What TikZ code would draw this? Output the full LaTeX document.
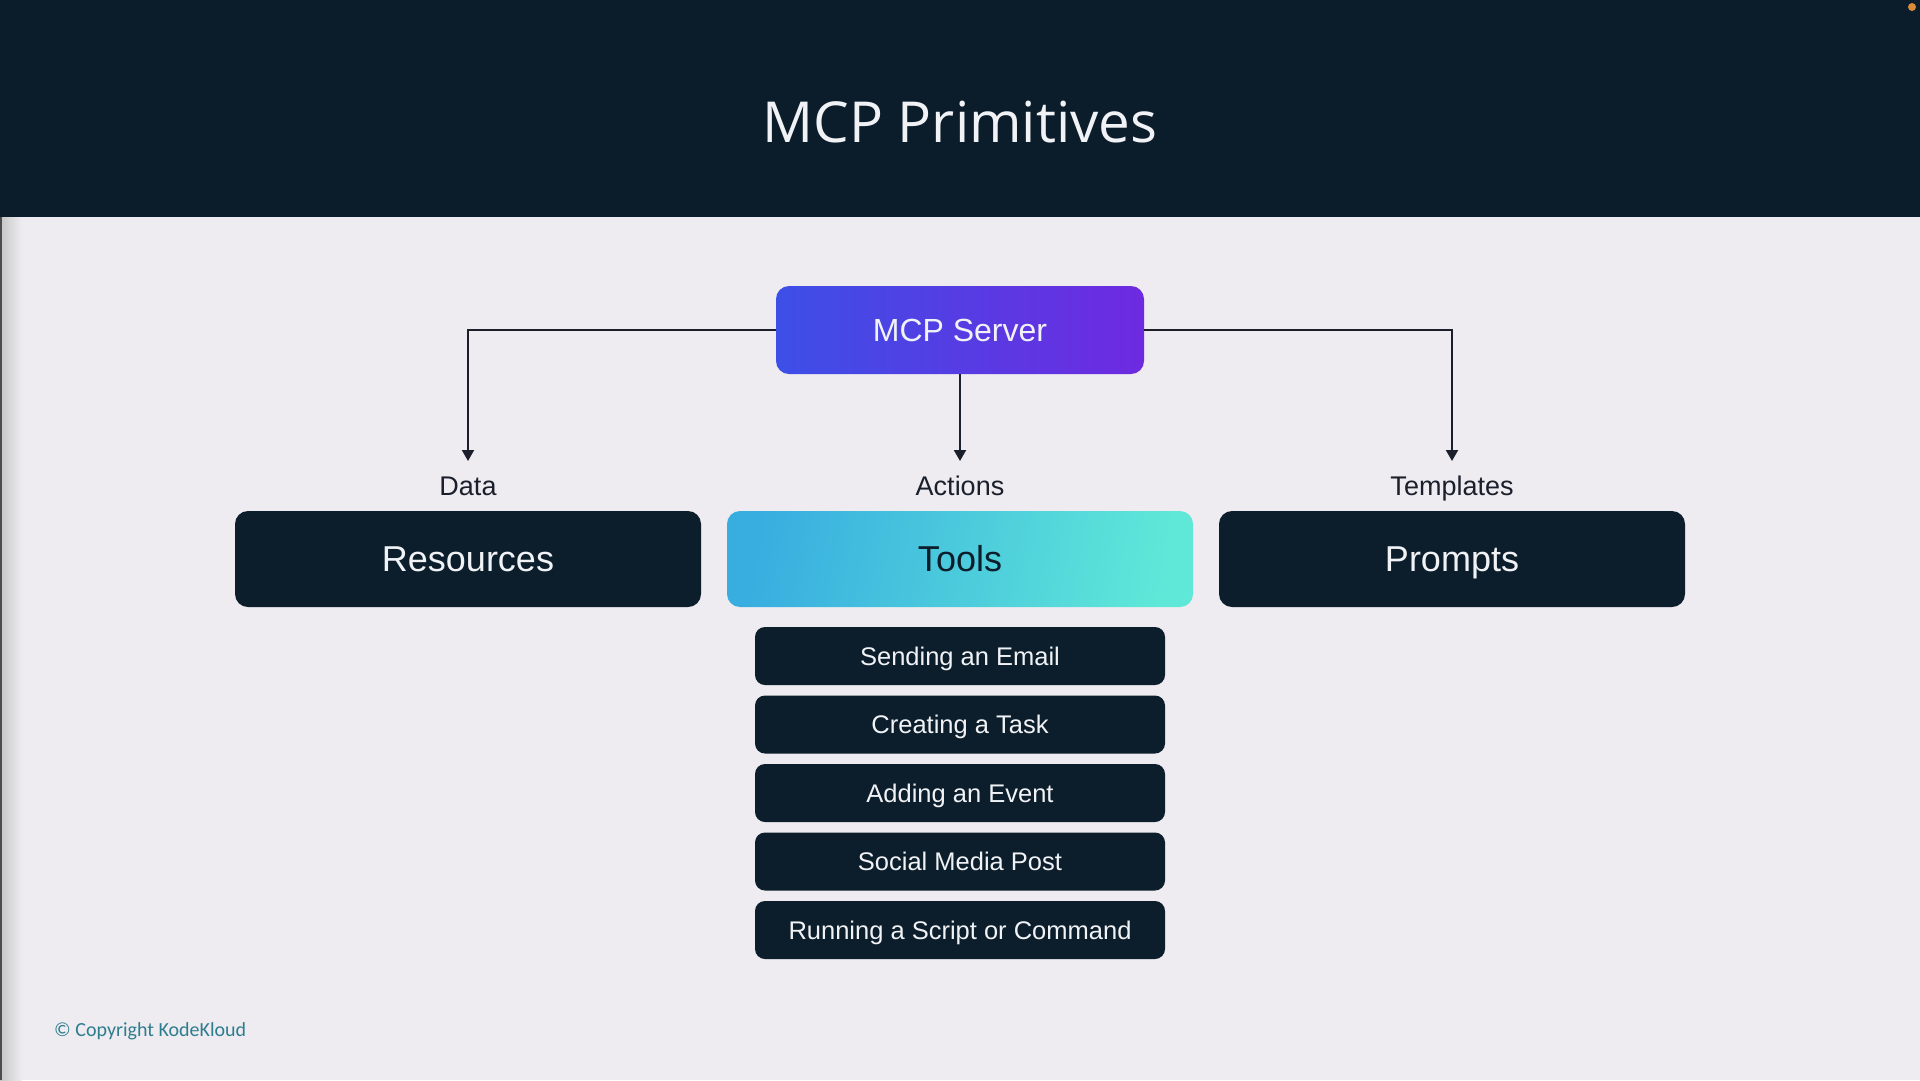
\documentclass[tikz,border=0pt]{standalone}
\usepackage{fontspec}
\setmainfont{Liberation Sans}
\newfontfamily\titlefont{Open Sans}
\newfontfamily\copyfont{Carlito}
\usetikzlibrary{arrows.meta}
\definecolor{headbg}{HTML}{0B1D2A}
\definecolor{bodybg}{HTML}{EEECF0}
\definecolor{darkbox}{HTML}{0C1E2B}
\definecolor{boxtext}{HTML}{F0F2F5}
\definecolor{mcpA}{HTML}{3D4FE6}
\definecolor{mcpB}{HTML}{6E2AE0}
\definecolor{toolA}{HTML}{38ADE0}
\definecolor{toolM}{HTML}{40C0E0}
\definecolor{toolB}{HTML}{5FE8D8}
\definecolor{linecol}{HTML}{1A1F2B}
\definecolor{copycol}{HTML}{2E7D8F}
\definecolor{dotcol}{HTML}{D98A3A}
\tikzset{
  primbox/.style={rounded corners=13pt, minimum width=466pt, minimum height=96pt, inner sep=0pt,
    font=\fontsize{36}{40}\selectfont, text height=25.8pt, text depth=0pt},
  darkprim/.style={primbox, fill=darkbox, text=boxtext},
  toolitem/.style={rounded corners=10pt, fill=darkbox, text=boxtext, minimum width=410pt,
    minimum height=58pt, inner sep=0pt, font=\fontsize{25.5}{30}\selectfont, text height=18.3pt, text depth=0pt},
  catlabel/.style={text=linecol, inner sep=0pt, font=\fontsize{27}{32}\selectfont, text height=19.3pt, text depth=0pt},
  conn/.style={draw=linecol, line width=2pt, -{Triangle[length=11pt,width=12pt]}},
}
\begin{document}
\begin{tikzpicture}[x=1pt,y=-1pt]
\useasboundingbox (0,0) rectangle (1920,1080);
% backgrounds
\fill[bodybg] (0,0) rectangle (1920,1080);
\fill[headbg] (0,0) rectangle (1920,217);
\shade[left color=gray!45, right color=bodybg] (0,217) rectangle (22,1080);
\fill[black!70] (0,217) rectangle (2,1080);
\fill[dotcol] (1912,7) circle (4pt);
% title
\node (title) at (960,122) [text=boxtext, font=\titlefont\fontsize{56.5}{64}\selectfont, inner sep=0pt, text height=40.3pt, text depth=0pt] {MCP Primitives};
% server
\node (mcp) at (960,330) [rounded corners=13pt, minimum width=368pt, minimum height=88pt, inner sep=0pt,
  left color=mcpA, right color=mcpB, text=boxtext, font=\fontsize{32}{36}\selectfont, text height=22.9pt, text depth=0pt] {MCP Server};
% primitives
\node (res) at (468,559) [darkprim] {Resources};
\node (tools) at (960,559) [primbox, left color=toolA, middle color=toolM, right color=toolB, shading angle=80, text=darkbox] {Tools};
\node (prm) at (1452,559) [darkprim] {Prompts};
% labels
\node (dataL) at (468,486) [catlabel] {Data};
\node (actL) at (960,486) [catlabel] {Actions};
\node (tplL) at (1452,486) [catlabel] {Templates};
% arrow ends
\coordinate (dataA) at (468,461);
\coordinate (actA) at (960,461);
\coordinate (tplA) at (1452,461);
\draw[conn] (mcp.west) -| (dataA);
\draw[conn] (mcp.south) -- (actA);
\draw[conn] (mcp.east) -| (tplA);
% tool items
\node (t1) at (960,656) [toolitem] {Sending an Email};
\node (t2) at (960,724.5) [toolitem] {Creating a Task};
\node (t3) at (960,793) [toolitem] {Adding an Event};
\node (t4) at (960,861.5) [toolitem] {Social Media Post};
\node (t5) at (960,930) [toolitem] {Running a Script or Command};
% copyright
\node (copy) at (54,1031) [anchor=west, inner sep=0pt, text=copycol, font=\copyfont\fontsize{20}{24}\selectfont] {© Copyright KodeKloud};
\end{tikzpicture}
\end{document}
